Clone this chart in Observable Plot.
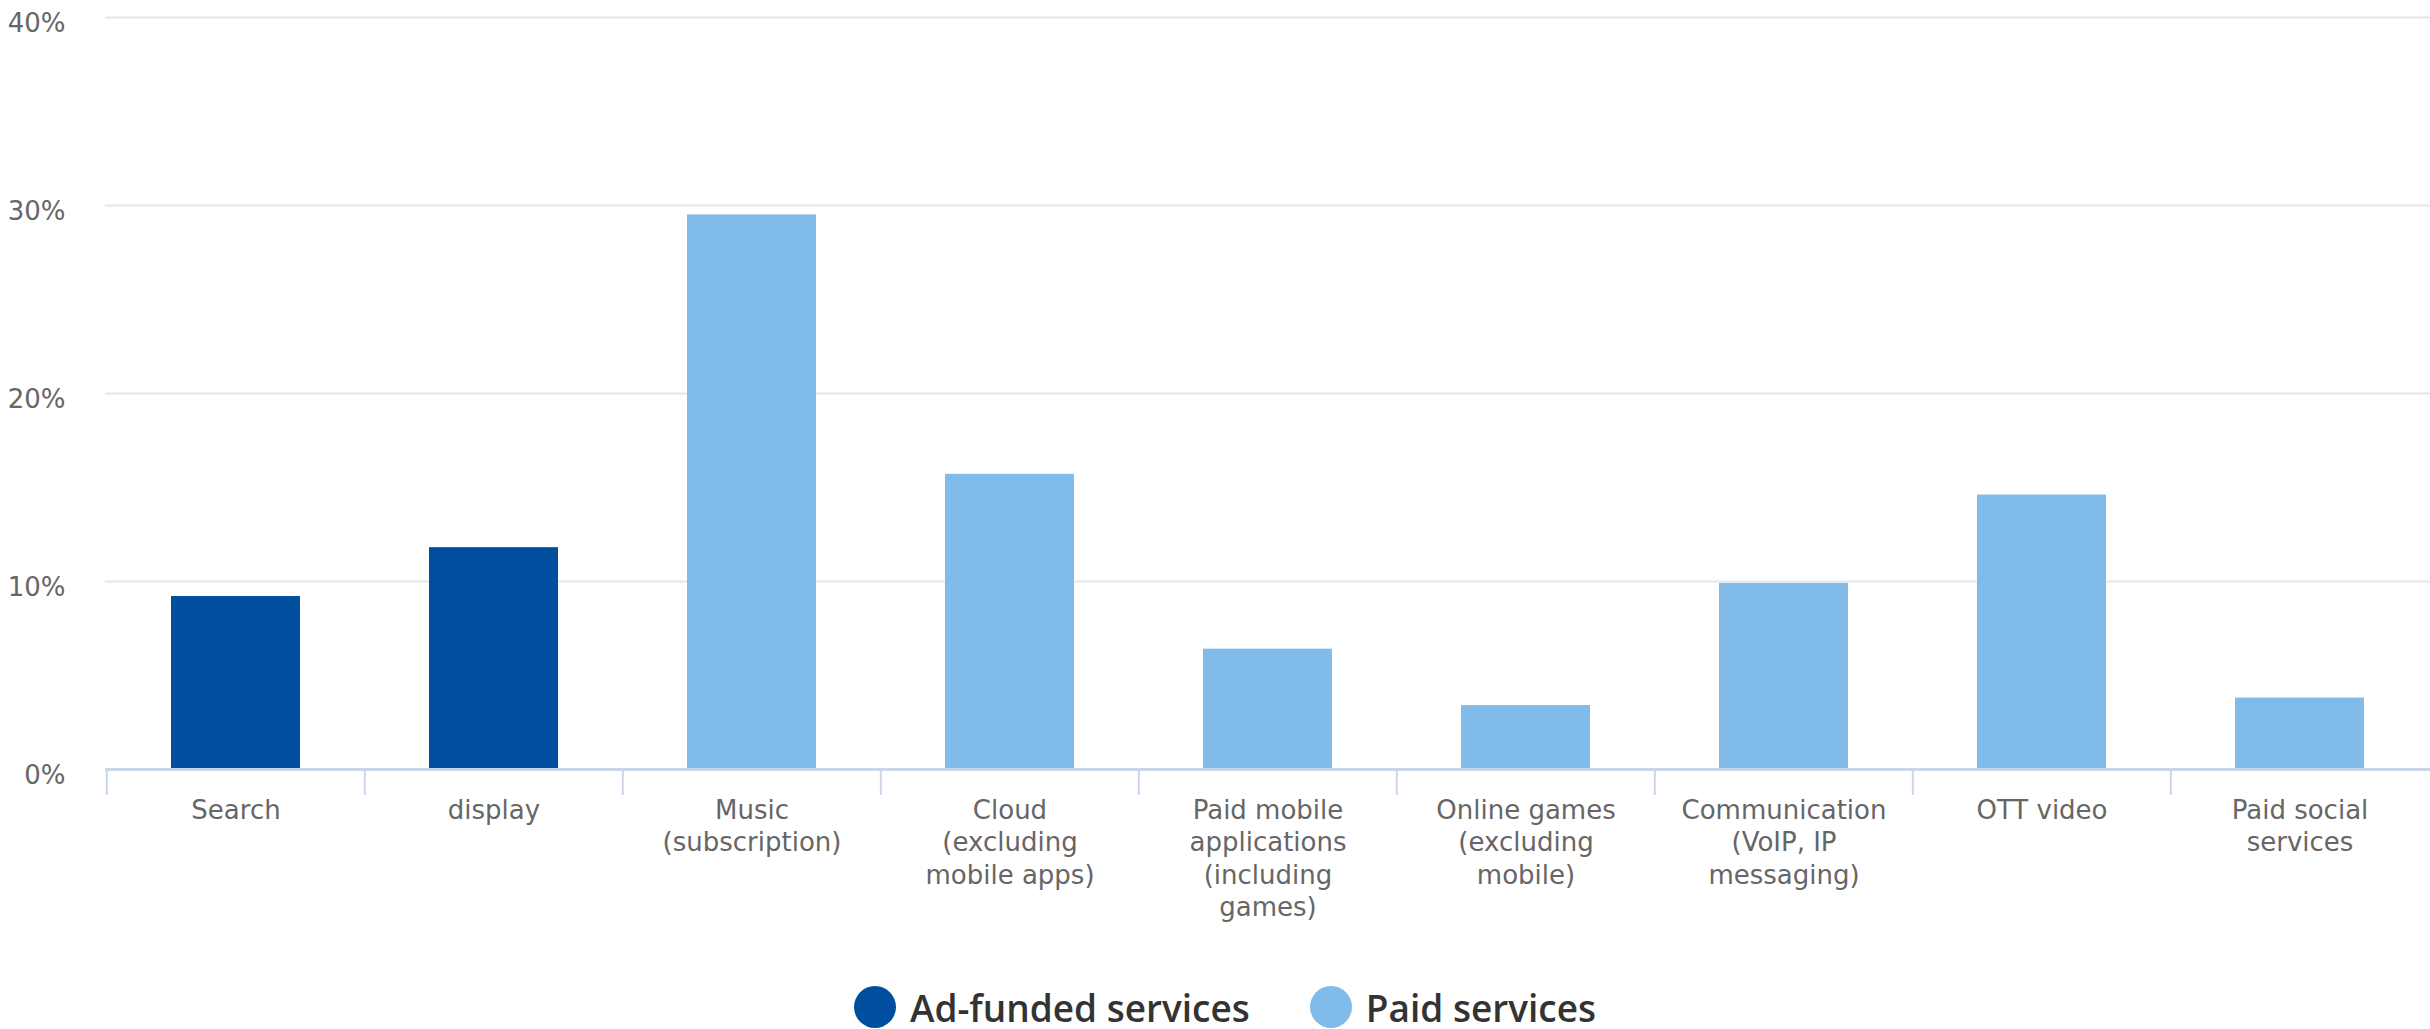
<!DOCTYPE html>
<html>
<head>
<meta charset="utf-8">
<script src="https://cdn.jsdelivr.net/npm/d3@7"></script>
<script src="https://cdn.jsdelivr.net/npm/@observablehq/plot@0.6"></script>
<style>
  html, body { margin: 0; padding: 0; background: #fff; overflow: hidden; }
  #legend { display: flex; justify-content: center; align-items: center; gap: 60px;
    font-family: "Open Sans", "Noto Sans", sans-serif; font-weight: 600; font-size: 37px; color: #333;
    height: 64px; margin-top: 15px; padding-left: 20px; }
  .item { display: flex; align-items: center; gap: 14px; }
  .sw { width: 42px; height: 42px; border-radius: 50%; display: inline-block; }
</style>
</head>
<body>
<div id="chart"></div>
<div id="legend"></div>
<script>
const categories = ["Search", "display", "Music (subscription)", "Cloud (excluding mobile apps)",
  "Paid mobile applications (including games)", "Online games (excluding mobile)",
  "Communication (VoIP, IP messaging)", "OTT video", "Paid social services"];
const tickLabels = ["Search", "display", "Music\n(subscription)", "Cloud\n(excluding\nmobile apps)",
  "Paid mobile\napplications\n(including\ngames)", "Online games\n(excluding\nmobile)",
  "Communication\n(VoIP, IP\nmessaging)", "OTT video", "Paid social\nservices"];
const values = [9.2, 11.8, 29.5, 15.7, 6.4, 3.4, 9.9, 14.6, 3.8];
const types = ["Ad-funded services", "Ad-funded services", "Paid services", "Paid services",
  "Paid services", "Paid services", "Paid services", "Paid services", "Paid services"];
const seriesNames = ["Ad-funded services", "Paid services"];
const seriesColors = ["#004f9f", "#80bbea"];
const yTicks = [0, 10, 20, 30, 40];

const data = categories.map((c, i) => ({category: c, value: values[i], type: types[i]}));

const W = 2430, H = 960, mL = 105, mR = 0;
const step = (W - mL - mR) / categories.length;

const chart = Plot.plot({
  width: W, height: H,
  marginTop: 17, marginBottom: H - 769, marginLeft: mL, marginRight: mR,
  style: {fontFamily: "DejaVu Sans", background: "#fff"},
  x: {domain: categories, paddingInner: 0.5, paddingOuter: 0.25, label: null},
  y: {domain: [0, 40], label: null},
  color: {domain: seriesNames, range: seriesColors},
  marks: [
    Plot.gridY({ticks: yTicks.filter(d => d > 0), stroke: "#e6e6e6", strokeOpacity: 1, strokeWidth: 2}),
    Plot.axisY({ticks: yTicks, tickSize: 0, tickPadding: 40, fontSize: 26, fill: "#666", dy: 6,
      tickFormat: d => d + "%", label: null}),
    Plot.barY(data, {x: "category", y: "value", fill: "type"}),
    Plot.ruleY([0], {stroke: "#ccd6eb", strokeWidth: 3}),
    Plot.axisX({ticks: categories, tickSize: 26, stroke: "#ccd6eb", strokeWidth: 2, dx: -step / 2,
      tickFormat: () => "", label: null}),
    Plot.axisX({ticks: categories, tickSize: 0, tickPadding: 26, fontSize: 26, fill: "#666",
      lineHeight: 1.25, tickFormat: d => tickLabels[categories.indexOf(d)], label: null})
  ]
});
document.getElementById("chart").appendChild(chart);

const legend = document.getElementById("legend");
seriesNames.forEach((n, i) => {
  const it = document.createElement("div");
  it.className = "item";
  const sw = document.createElement("span");
  sw.className = "sw";
  sw.style.background = seriesColors[i];
  const t = document.createElement("span");
  t.textContent = n;
  it.appendChild(sw); it.appendChild(t);
  legend.appendChild(it);
});
</script>
</body>
</html>
